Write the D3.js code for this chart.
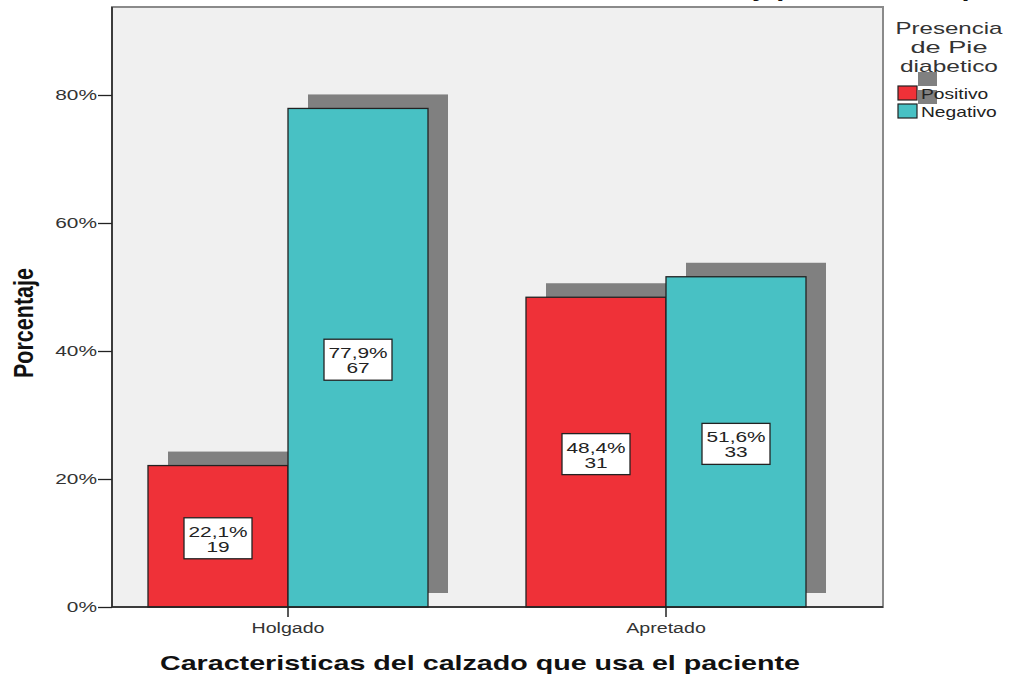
<!DOCTYPE html>
<html>
<head>
<meta charset="utf-8">
<script src="https://cdn.jsdelivr.net/npm/d3@7"></script>
<style>
  html, body { margin: 0; padding: 0; background: #ffffff; }
  svg { display: block; }
  text { font-family: "Liberation Sans", Arial, sans-serif; }
</style>
</head>
<body>
<svg id="chart" width="1009" height="675"></svg>
<script>
// ---- data ----
const categories = ["Holgado", "Apretado"];
const series = ["Positivo", "Negativo"];
const percentPositivo = [22.1, 48.4];
const percentNegativo = [77.9, 51.6];
const countPositivo = [19, 31];
const countNegativo = [67, 33];
const yTicks = [0, 20, 40, 60, 80];
const seriesColors = ["#EF3138", "#48C1C4"];
const xTitle = "Caracteristicas del calzado que usa el paciente";
const yTitle = "Porcentaje";
const legendTitle = ["Presencia", "de Pie", "diabetico"];
const topTitleTail = "y presencia de pie diabetico";

// ---- layout ----
const W = 1009, H = 675;
const plot = { left: 112, right: 883, top: 7, bottom: 607 };
const svg = d3.select("#chart");

function stretch(sel, f) {
  sel.each(function () {
    const w = this.getComputedTextLength();
    d3.select(this).attr("textLength", w * f).attr("lengthAdjust", "spacingAndGlyphs");
  });
}

const y = d3.scaleLinear().domain([0, 93.75]).range([plot.bottom, plot.top]);
const x0 = d3.scaleBand().domain(categories).range([99, 855])
  .paddingInner(98 / 378).paddingOuter(49 / 378);
const x1 = d3.scaleBand().domain(series).range([0, x0.bandwidth()]).padding(0);
const color = d3.scaleOrdinal().domain(series).range(seriesColors);

const rows = [];
categories.forEach((c, i) => {
  rows.push({ cat: c, s: series[0], pct: percentPositivo[i], n: countPositivo[i] });
  rows.push({ cat: c, s: series[1], pct: percentNegativo[i], n: countNegativo[i] });
});

// clipped title (only descenders visible at the top edge, as in the source)
svg.append("text")
  .attr("x", 752).attr("y", -5)
  .attr("font-size", 29).attr("font-weight", "bold").attr("fill", "#111")
  .text(topTitleTail);

// plot background / frame
svg.append("rect")
  .attr("x", plot.left).attr("y", plot.top)
  .attr("width", plot.right - plot.left).attr("height", plot.bottom - plot.top)
  .attr("fill", "#f0f0f0").attr("stroke", "#8a8a8a").attr("stroke-width", 2);

const dx = 20, dy = -14;
// shadows
svg.append("g").selectAll("rect").data(rows).join("rect")
  .attr("x", d => x0(d.cat) + x1(d.s) + dx)
  .attr("y", d => y(d.pct) + dy)
  .attr("width", x1.bandwidth())
  .attr("height", d => y(0) - y(d.pct))
  .attr("fill", "#808080");

// bars
svg.append("g").selectAll("rect").data(rows).join("rect")
  .attr("x", d => x0(d.cat) + x1(d.s))
  .attr("y", d => y(d.pct))
  .attr("width", x1.bandwidth())
  .attr("height", d => y(0) - y(d.pct))
  .attr("fill", d => color(d.s))
  .attr("stroke", "#222").attr("stroke-width", 1.3);

// bar labels
const fmt = v => d3.format(".1f")(v).replace(".", ",") + "%";
const lab = svg.append("g").selectAll("g").data(rows).join("g")
  .attr("transform", d => {
    const cx = x0(d.cat) + x1(d.s) + x1.bandwidth() / 2;
    const cy = (y(d.pct) + y(0)) / 2 + 2;
    return `translate(${cx},${cy})`;
  });
lab.append("rect")
  .attr("x", -34).attr("y", -20.5).attr("width", 68).attr("height", 41)
  .attr("fill", "#ffffff").attr("stroke", "#222").attr("stroke-width", 1.3);
const t1 = lab.append("text").attr("text-anchor", "middle").attr("y", -1.5)
  .attr("font-size", 15).attr("fill", "#222").text(d => fmt(d.pct));
const t2 = lab.append("text").attr("text-anchor", "middle").attr("y", 13.5)
  .attr("font-size", 15).attr("fill", "#222").text(d => d.n);
stretch(t1, 1.39); stretch(t2, 1.39);

// y axis
const yAxis = svg.append("g").attr("transform", `translate(${plot.left},0)`)
  .call(d3.axisLeft(y).tickValues(yTicks).tickFormat(d => d + "%").tickSize(14).tickPadding(1));
yAxis.select(".domain").attr("stroke", "#222").attr("stroke-width", 1.5)
  .attr("d", `M0,${plot.top}V${plot.bottom}`);
yAxis.selectAll(".tick line").attr("stroke", "#222").attr("stroke-width", 1.3);
yAxis.selectAll(".tick text").attr("font-size", 14).attr("fill", "#333")
  .attr("font-family", '"Liberation Sans", Arial, sans-serif');
stretch(yAxis.selectAll(".tick text"), 1.49);

// x axis
const xAxis = svg.append("g").attr("transform", `translate(0,${plot.bottom})`)
  .call(d3.axisBottom(x0).tickSize(10).tickSizeOuter(0));
xAxis.select(".domain").attr("stroke", "#222").attr("stroke-width", 1.3)
  .attr("d", `M${plot.left},0H${plot.right}`);
xAxis.selectAll(".tick line").attr("stroke", "#222").attr("stroke-width", 1.5);
xAxis.selectAll(".tick text").attr("y", 26).attr("dy", 0).attr("font-size", 14)
  .attr("fill", "#333").attr("font-family", '"Liberation Sans", Arial, sans-serif');
stretch(xAxis.selectAll(".tick text"), 1.4);

// axis titles
svg.append("text").attr("x", 480).attr("y", 670).attr("text-anchor", "middle")
  .attr("font-size", 21).attr("font-weight", "bold").attr("fill", "#111")
  .attr("textLength", 640).attr("lengthAdjust", "spacingAndGlyphs").text(xTitle);
svg.append("text").attr("transform", "translate(33,323) rotate(-90)")
  .attr("text-anchor", "middle").attr("font-size", 27).attr("font-weight", "bold")
  .attr("fill", "#111").attr("textLength", 110).attr("lengthAdjust", "spacingAndGlyphs")
  .text(yTitle);

// legend
const lg = svg.append("g");
const ltWidths = [107, 77, 98];
lg.selectAll("text.lt").data(legendTitle).join("text").attr("class", "lt")
  .attr("x", 949).attr("y", (d, i) => 33.5 + i * 19).attr("text-anchor", "middle")
  .attr("font-size", 17).attr("fill", "#333").text(d => d)
  .attr("textLength", (d, i) => ltWidths[i]).attr("lengthAdjust", "spacingAndGlyphs");
lg.selectAll("rect.sh").data(series).join("rect").attr("class", "sh")
  .attr("x", 898 + dx).attr("y", (d, i) => 86 + i * 18 + dy)
  .attr("width", 19).attr("height", 14).attr("fill", "#808080");
lg.selectAll("rect.sw").data(series).join("rect").attr("class", "sw")
  .attr("x", 898).attr("y", (d, i) => 86 + i * 18)
  .attr("width", 19).attr("height", 14).attr("fill", d => color(d))
  .attr("stroke", "#222").attr("stroke-width", 1.2);
const ll = lg.selectAll("text.ll").data(series).join("text").attr("class", "ll")
  .attr("x", 921).attr("y", (d, i) => 99 + i * 18)
  .attr("font-size", 15).attr("fill", "#222").text(d => d);
stretch(ll, 1.28);
</script>
</body>
</html>
